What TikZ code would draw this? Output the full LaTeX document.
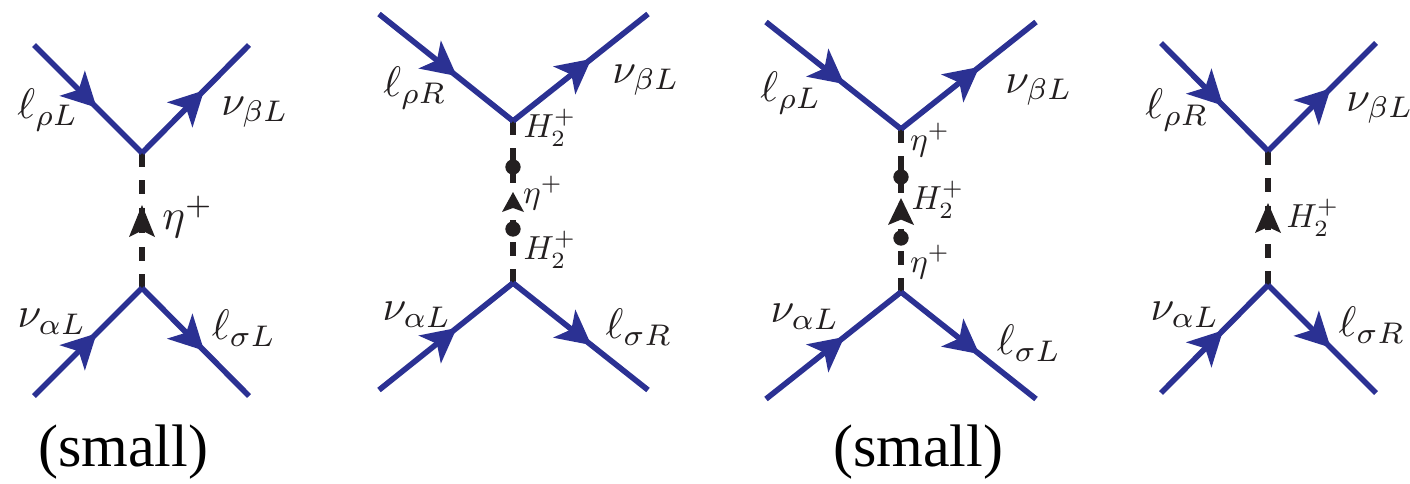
\documentclass[tikz,border=0pt]{standalone}
\usepackage[no-math]{fontspec}
\setmainfont{Liberation Serif}
\usetikzlibrary{arrows.meta,decorations.markings}
\definecolor{fermion}{HTML}{2B3193}
\definecolor{ink}{HTML}{231F20}
\tikzset{
  fline/.style={draw=fermion,line width=4.2pt,postaction={decorate},
    decoration={markings,mark=at position 0.58 with {\arrow{Stealth[length=26pt,width=27pt,inset=7pt,fill=fermion,line width=0pt]}}}},
  sdash/.style={draw=ink,line width=4.2pt,dash pattern=on 10.5pt off 10pt},
  ssolid/.style={draw=ink,line width=4.2pt},
  stip/.style={fill=ink},
  blob/.style={circle,fill=ink,inner sep=0pt,minimum size=11.5pt},
  lab/.style={text=ink,inner sep=0pt,scale=3.2},
  labs/.style={text=ink,inner sep=0pt,scale=2.5},
  capt/.style={text=black,inner sep=0pt,font=\fontsize{45pt}{47pt}\selectfont},
}
\newcommand{\scalartip}[4]{% x, tip y, base y, half width
  \fill[stip] (#1,#2) -- (#1+#4,#3) -- (#1,#3-0.2*#3+0.2*#2) -- (#1-#4,#3) -- cycle;}
\begin{document}
\begin{tikzpicture}[x=0.75pt,y=-0.75pt]
\useasboundingbox (0,0) rectangle (1410,483);
% ---- diagram 1
\coordinate (a1) at (34,45); \coordinate (b1) at (249,45);
\coordinate (c1) at (34,396); \coordinate (d1) at (249,396);
\coordinate (u1) at (142,153); \coordinate (v1) at (142,288);
\coordinate (m1) at (142,221);
\draw[sdash] (u1) -- (m1);
\draw[sdash] (v1) -- (m1);
\scalartip{142}{205}{237}{13}
\path[fline] (a1) -- (u1);
\path[fline] (u1) -- (b1);
\path[fline] (c1) -- (v1);
\path[fline] (v1) -- (d1);
\node[lab] (l1a) at (48,110) {$\ell_{\rho L}$};
\node[lab] (l1b) at (255,112) {$\nu_{\beta L}$};
\node[lab] (l1c) at (52,322) {$\nu_{\alpha L}$};
\node[lab] (l1d) at (244,328) {$\ell_{\sigma L}$};
\node[lab] (l1e) at (188,217) {$\eta^+$};
\node[capt] (cap1) at (123,452) {(small)};
% ---- diagram 2
\coordinate (a2) at (379,14); \coordinate (b2) at (648,14);
\coordinate (c2) at (379,390); \coordinate (d2) at (648,390);
\coordinate (u2) at (513,121); \coordinate (v2) at (513,283);
\node[blob] (p2) at (513,167) {};
\node[blob] (q2) at (513,229) {};
\draw[sdash] (u2) -- (p2.center);
\draw[ssolid] (p2.center) -- (513,183);
\draw[ssolid] (q2.center) -- (513,220);
\draw[sdash] (v2) -- (q2.center);
\scalartip{513}{192}{212}{11}
\path[fline] (a2) -- (u2);
\path[fline] (u2) -- (b2);
\path[fline] (c2) -- (v2);
\path[fline] (v2) -- (d2);
\node[lab] (l2a) at (415,88) {$\ell_{\rho R}$};
\node[lab] (l2b) at (646,80) {$\nu_{\beta L}$};
\node[lab] (l2c) at (417,315) {$\nu_{\alpha L}$};
\node[lab] (l2d) at (639,327) {$\ell_{\sigma R}$};
\node[labs] (l2e) at (543,193) {$\eta^+$};
\node[labs] (l2f) at (550,128) {$H_2^+$};
\node[labs] (l2g) at (550,250) {$H_2^+$};
% ---- diagram 3
\coordinate (a3) at (766,22); \coordinate (b3) at (1036,22);
\coordinate (c3) at (766,399); \coordinate (d3) at (1036,399);
\coordinate (u3) at (901,129); \coordinate (v3) at (901,292);
\node[blob] (p3) at (901,177) {};
\node[blob] (q3) at (901,238) {};
\draw[sdash] (u3) -- (p3.center);
\draw[ssolid] (p3.center) -- (901,193);
\draw[ssolid] (q3.center) -- (901,229);
\draw[sdash] (v3) -- (q3.center);
\scalartip{901}{198}{225}{13}
\path[fline] (a3) -- (u3);
\path[fline] (u3) -- (b3);
\path[fline] (c3) -- (v3);
\path[fline] (v3) -- (d3);
\node[lab] (l3a) at (791,93) {$\ell_{\rho L}$};
\node[lab] (l3b) at (1039,90) {$\nu_{\beta L}$};
\node[lab] (l3c) at (805,317) {$\nu_{\alpha L}$};
\node[lab] (l3d) at (1029,343) {$\ell_{\sigma L}$};
\node[labs] (l3e) at (930,140) {$\eta^+$};
\node[labs] (l3f) at (938,200) {$H_2^+$};
\node[labs] (l3g) at (930,262) {$\eta^+$};
\node[capt] (cap3) at (918,452) {(small)};
% ---- diagram 4
\coordinate (a4) at (1161,43); \coordinate (b4) at (1376,43);
\coordinate (c4) at (1161,393); \coordinate (d4) at (1376,393);
\coordinate (u4) at (1268,151); \coordinate (v4) at (1268,285);
\coordinate (m4) at (1268,218);
\draw[sdash] (u4) -- (m4);
\draw[sdash] (v4) -- (m4);
\scalartip{1268}{203}{233}{13}
\path[fline] (a4) -- (u4);
\path[fline] (u4) -- (b4);
\path[fline] (c4) -- (v4);
\path[fline] (v4) -- (d4);
\node[lab] (l4a) at (1177,110) {$\ell_{\rho R}$};
\node[lab] (l4b) at (1380,108) {$\nu_{\beta L}$};
\node[lab] (l4c) at (1185,315) {$\nu_{\alpha L}$};
\node[lab] (l4d) at (1372,325) {$\ell_{\sigma R}$};
\node[labs] (l4e) at (1313,218) {$H_2^+$};
\end{tikzpicture}
\end{document}
